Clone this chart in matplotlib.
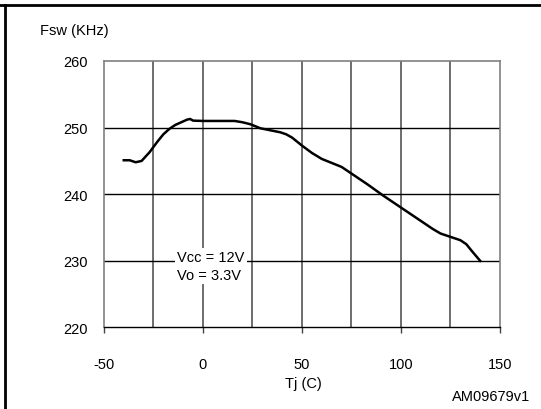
import matplotlib
matplotlib.use("Agg")
import matplotlib.pyplot as plt
from matplotlib.lines import Line2D

plt.rcParams['font.family'] = ['Liberation Sans', 'DejaVu Sans']

tj = [-40, -37, -34, -31, -27, -23, -20, -17, -14, -11, -8, -6.5, -5, 0, 10, 16, 20, 24,
      29, 34, 39, 42, 45, 50, 55, 60, 65, 70, 75, 83, 91, 101, 111, 116, 120, 126, 130,
      133, 136, 140]
fsw = [245.1, 245.1, 244.8, 245.0, 246.3, 247.9, 249.0, 249.8, 250.4, 250.8, 251.2, 251.3,
       251.05, 251.0, 251.0, 251.0, 250.8, 250.5, 249.9, 249.6, 249.3, 249.0, 248.5, 247.3,
       246.2, 245.3, 244.7, 244.1, 243.1, 241.5, 239.8, 237.8, 235.8, 234.8, 234.1, 233.5,
       233.1, 232.5, 231.4, 230.0]

x_ticks = [-50, 0, 50, 100, 150]
x_grid = [-25, 0, 25, 50, 75, 100, 125]
y_ticks = [220, 230, 240, 250, 260]
y_grid = [230, 240, 250]

fig = plt.figure(figsize=(5.41, 4.10), dpi=100)
ax = fig.add_axes([0.1922, 0.1988, 0.732, 0.65])
ax.set_xlim(-50, 150)
ax.set_ylim(220, 260)

for xv in x_grid:
    ax.axvline(xv, color='#555555', lw=1.2, zorder=1)
for yv in y_grid:
    ax.axhline(yv, color='black', lw=1.0, zorder=1)

ax.plot(tj, fsw, color='black', lw=1.8, zorder=3, solid_joinstyle='round')

for side in ['left', 'top', 'right']:
    ax.spines[side].set_color('#808080')
    ax.spines[side].set_linewidth(1.2)
ax.spines['bottom'].set_color('black')
ax.spines['bottom'].set_linewidth(1.0)

ax.set_xticks(x_ticks)
ax.set_xticklabels([str(v) for v in x_ticks])
ax.set_yticks(y_ticks)
ax.set_yticklabels([str(v) for v in y_ticks])
ax.tick_params(axis='x', direction='out', length=4, width=1, color='#444444',
               labelsize=10.5, pad=17)
ax.tick_params(axis='y', length=0, labelsize=10.5, pad=12)

ax.text(-13, 229.2, "Vcc = 12V\nVo = 3.3V", fontsize=10.5, ha='left', va='center',
        linespacing=1.35, zorder=4,
        bbox=dict(facecolor='white', edgecolor='none', pad=1.5))

fig.text(40/541, 1 - 31/410, "Fsw (KHz)", fontsize=10.5, ha='left', va='center')
fig.text(303/541, 1 - 384/410, "Tj (C)", fontsize=10.5, ha='center', va='center')
fig.text(530/541, 1 - 397/410, "AM09679v1", fontsize=10.5, ha='right', va='center')

# outer frame
fig.add_artist(Line2D([0, 1], [1 - 5.5/410, 1 - 5.5/410], transform=fig.transFigure,
                      color='black', lw=2))
fig.add_artist(Line2D([5/541, 5/541], [0, 1 - 5.5/410], transform=fig.transFigure,
                      color='black', lw=2))

fig.savefig("out.png", dpi=100)
